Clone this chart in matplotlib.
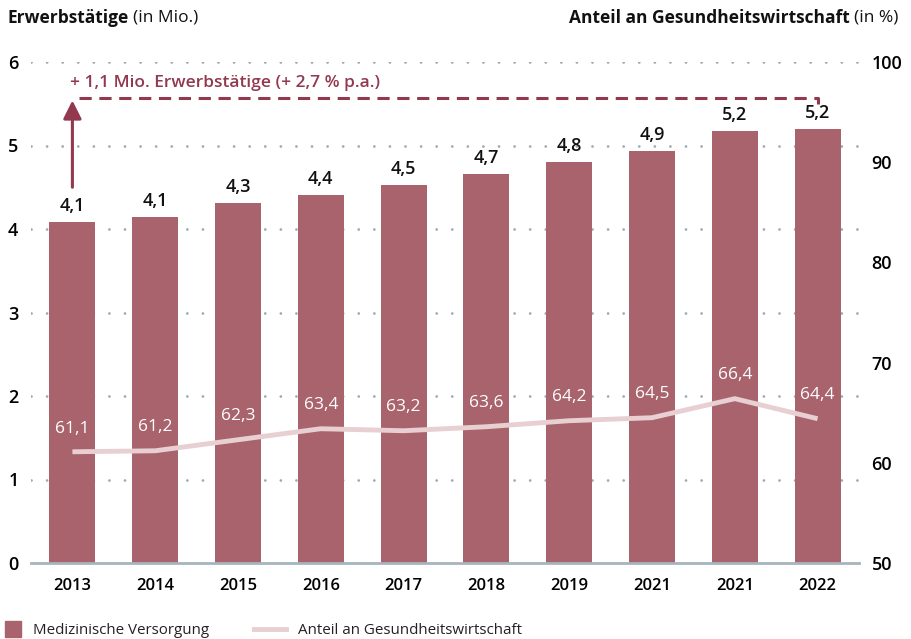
import matplotlib
matplotlib.use('Agg')
import matplotlib.pyplot as plt
from matplotlib.patches import Rectangle
from matplotlib.lines import Line2D

plt.rcParams['font.family'] = ['Open Sans', 'DejaVu Sans']

# Data
years = ['2013', '2014', '2015', '2016', '2017', '2018', '2019', '2021', '2021', '2022']
erwerbstaetige = [4.08, 4.14, 4.31, 4.41, 4.53, 4.66, 4.80, 4.93, 5.17, 5.20]
erwerb_labels = ['4,1', '4,1', '4,3', '4,4', '4,5', '4,7', '4,8', '4,9', '5,2', '5,2']
anteil = [61.1, 61.2, 62.3, 63.4, 63.2, 63.6, 64.2, 64.5, 66.4, 64.4]
anteil_labels = ['61,1', '61,2', '62,3', '63,4', '63,2', '63,6', '64,2', '64,5', '66,4', '64,4']
left_ticks = [0, 1, 2, 3, 4, 5, 6]
right_ticks = [50, 60, 70, 80, 90, 100]
annot_text = '+ 1,1 Mio. Erwerbstätige (+ 2,7 % p.a.)'
annot_level = 5.57

bar_color = '#a8636d'
line_color = '#e8cfd1'
accent = '#92394f'
grid_color = '#9aabb8'

fig = plt.figure(figsize=(9.12, 6.39), dpi=100)
ax = fig.add_axes([31/912, 76/639, (859-31)/912, (563-62)/639])
ax2 = ax.twinx()

x = list(range(len(years)))

# grid
for t in left_ticks[1:]:
    ax.axhline(t, color=grid_color, linewidth=2.0, dashes=(0.01, 5.6),
               dash_capstyle='round', zorder=0)

ax.bar(x, erwerbstaetige, width=0.555, color=bar_color, zorder=2)
for xi, v, lab in zip(x, erwerbstaetige, erwerb_labels):
    ax.annotate(lab, (xi, v), xytext=(0, 5), textcoords='offset points',
                ha='center', va='bottom', fontsize=13, fontweight='semibold',
                color='#111111', zorder=5)

ax.set_xlim(-0.5, len(years) - 0.5)
ax.set_ylim(0, 6)
ax2.set_ylim(50, 100)

ax.set_yticks(left_ticks)
ax2.set_yticks(right_ticks)
ax.set_xticks(x)
ax.set_xticklabels(years)

for a in (ax, ax2):
    for s in a.spines.values():
        s.set_visible(False)
ax.spines['bottom'].set_visible(True)
ax.spines['bottom'].set_color('#a6b4be')
ax.spines['bottom'].set_linewidth(2)
ax.spines['bottom'].set_zorder(3)

ax.tick_params(axis='y', length=0, pad=9, labelsize=13)
ax.tick_params(axis='x', length=0, pad=11, labelsize=12)
ax2.tick_params(axis='y', length=0, pad=9, labelsize=13)
for lab in ax.get_yticklabels() + ax2.get_yticklabels():
    lab.set_fontweight('semibold')
for lab in ax.get_xticklabels():
    lab.set_fontweight('semibold')

# line on secondary axis
ax2.plot(x, anteil, color=line_color, linewidth=3.5, zorder=4,
         solid_capstyle='butt')
for xi, v, lab in zip(x, anteil, anteil_labels):
    ax2.annotate(lab, (xi, v), xytext=(0, 11), textcoords='offset points',
                 ha='center', va='bottom', fontsize=12.5, color='white', zorder=5)

ax2.patch.set_visible(False)

# annotation arrow and dashed line
ax.annotate('', xy=(x[0], annot_level - 0.03), xytext=(x[0], 4.5),
            arrowprops=dict(arrowstyle='-|>,head_length=1.1,head_width=0.55',
                            color=accent, linewidth=2.2, shrinkA=0, shrinkB=0),
            zorder=6)
ax.plot([x[0] + 0.08, x[-1], x[-1]], [annot_level, annot_level, annot_level - 0.07],
        color=accent, linewidth=2.2, dashes=(4, 2.5), zorder=6)
ax.text(x[0] - 0.03, annot_level + 0.08, annot_text, color=accent, fontsize=12.5,
        fontweight='semibold', ha='left', va='bottom', zorder=6)

# titles
fig.canvas.draw()
r = fig.canvas.get_renderer()
t1 = fig.text(8/912, 1 - 18/639, 'Erwerbstätige', fontsize=12.5, fontweight='bold',
              ha='left', va='center', color='#111111')
bb = t1.get_window_extent(r)
fig.text(bb.x1 / 912 + 4/912, 1 - 18/639, '(in Mio.)', fontsize=12.5,
         ha='left', va='center', color='#111111')
t3 = fig.text(898/912, 1 - 18/639, '(in %)', fontsize=12.5,
              ha='right', va='center', color='#111111')
bb = t3.get_window_extent(r)
fig.text(bb.x0 / 912 - 4/912, 1 - 18/639, 'Anteil an Gesundheitswirtschaft',
         fontsize=12.5, fontweight='bold', ha='right', va='center', color='#111111')

# legend
fig.patches.append(Rectangle((5/912, 2/639), 16/912, 16/639, transform=fig.transFigure,
                             color=bar_color, figure=fig))
fig.text(33/912, 9/639, 'Medizinische Versorgung', fontsize=10.9, ha='left',
         va='center', color='#222222')
fig.lines.append(Line2D([254/912, 286/912], [10/639, 10/639], transform=fig.transFigure,
                        color=line_color, linewidth=3.5, figure=fig))
fig.text(298/912, 9/639, 'Anteil an Gesundheitswirtschaft', fontsize=10.9, ha='left',
         va='center', color='#222222')

fig.savefig('out.png', dpi=100)
